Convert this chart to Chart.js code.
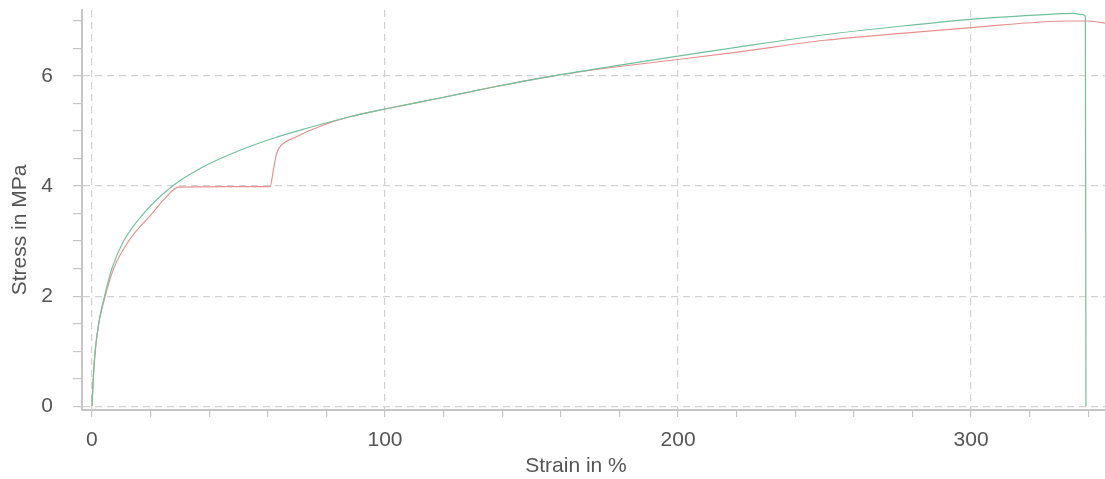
<!DOCTYPE html>
<html>
<head>
<meta charset="utf-8">
<script src="https://cdn.jsdelivr.net/npm/chart.js@4"></script>
<style>
  html, body { margin: 0; padding: 0; background: #fff; }
  #wrap { width: 1105px; height: 479px; }
</style>
</head>
<body>
<div id="wrap"><canvas id="chartLine"></canvas></div>
<script>
// sample 1 (green) - strain in %, stress in MPa
var greenStrain = [0, 0.5, 1.1, 2.3, 4.3, 6.8, 10.8, 17.6, 27.5, 38, 50.5, 61.9, 73.3, 88, 100, 118.8, 137, 156, 178, 200, 221, 250, 275, 300, 323.5, 335, 337.5, 339, 339.2];
var greenStress = [0, 0.55, 1.0, 1.5, 2.0, 2.5, 3.0, 3.5, 4.0, 4.35, 4.65, 4.87, 5.05, 5.26, 5.40, 5.60, 5.80, 5.99, 6.18, 6.36, 6.53, 6.75, 6.90, 7.03, 7.11, 7.14, 7.12, 7.09, 0];

// sample 2 (red)
var redStrain = [0, 0.5, 1.1, 2.3, 4.5, 7.4, 12.5, 20.5, 25, 29.5, 45, 60.8, 61.9, 63, 64.7, 68.7, 79, 88, 100, 118.8, 137, 156, 178, 200, 221, 250, 275, 300, 334, 340, 347];
var redStress = [0, 0.55, 1.0, 1.5, 2.0, 2.5, 3.0, 3.5, 3.78, 3.98, 3.99, 3.99, 4.29, 4.59, 4.75, 4.87, 5.11, 5.26, 5.40, 5.60, 5.80, 5.99, 6.16, 6.30, 6.44, 6.65, 6.77, 6.88, 7.0, 7.0, 6.95];

var xMajor = 100, xMinor = 20;
var yMajor = 2, yMinor = 0.5;

function toPoints(xs, ys) {
    return xs.map(function (x, i) { return { x: x, y: ys[i] }; });
}

var gridColor = '#d2d2d2';
var axisColor = '#c6c6c6';
var textColor = '#555555';
var fontFamily = "'Liberation Sans', Arial, sans-serif";

var axisTitles = {
    id: 'axisTitles',
    afterDraw: function (chart) {
        var ctx = chart.ctx;
        ctx.save();
        ctx.fillStyle = textColor;
        ctx.font = '21px ' + fontFamily;
        ctx.textAlign = 'center';
        ctx.textBaseline = 'middle';
        ctx.fillText('Strain in %', 576, 466);
        ctx.translate(20, 230);
        ctx.rotate(-Math.PI / 2);
        ctx.fillText('Stress in MPa', 0, 0);
        ctx.restore();
    }
};

var lineChart = new Chart(document.getElementById('chartLine'), {
    type: 'line',
    data: {
        datasets: [
            {
                label: 'Sample 1',
                data: toPoints(greenStrain, greenStress),
                borderColor: '#72c09c',
                borderWidth: 1.2,
                pointRadius: 0,
                cubicInterpolationMode: 'monotone',
                fill: false
            },
            {
                label: 'Sample 2',
                data: toPoints(redStrain, redStress),
                borderColor: '#e69090',
                borderWidth: 1.2,
                pointRadius: 0,
                cubicInterpolationMode: 'monotone',
                fill: false
            }
        ]
    },
    options: {
        responsive: true,
        maintainAspectRatio: false,
        animation: false,
        layout: { padding: { top: 10, right: 0, left: 0, bottom: 0 } },
        plugins: {
            legend: { display: false },
            tooltip: { enabled: false }
        },
        scales: {
            x: {
                type: 'linear',
                min: -3.4,
                max: 345.7,
                afterFit: function (scale) {
                    scale.height = 69;
                    scale.paddingLeft = 0;
                    scale.paddingRight = 0;
                },
                ticks: {
                    stepSize: xMinor,
                    maxTicksLimit: 100,
                    includeBounds: false,
                    autoSkip: false,
                    maxRotation: 0,
                    padding: 11,
                    color: textColor,
                    font: { family: fontFamily, size: 21 },
                    callback: function (v) { return v % xMajor === 0 ? String(v) : ''; }
                },
                grid: {
                    color: function (c) { return c.tick && c.tick.value % xMajor === 0 ? gridColor : 'rgba(0,0,0,0)'; },
                    lineWidth: 1.2,
                    tickLength: 7,
                    tickColor: axisColor,
                    tickWidth: 1.2
                },
                border: {
                    color: axisColor,
                    width: 2,
                    dash: function (c) { return c.type === 'tick' ? [7, 5] : []; }
                }
            },
            y: {
                type: 'linear',
                min: -0.07,
                max: 7.2,
                afterFit: function (scale) {
                    scale.width = 82;
                    scale.paddingTop = 0;
                    scale.paddingBottom = 0;
                },
                ticks: {
                    stepSize: yMinor,
                    maxTicksLimit: 100,
                    includeBounds: false,
                    autoSkip: false,
                    padding: 20,
                    color: textColor,
                    font: { family: fontFamily, size: 21 },
                    callback: function (v) { return v % yMajor === 0 ? String(v) : ''; }
                },
                grid: {
                    color: function (c) { return c.tick && c.tick.value % yMajor === 0 ? gridColor : 'rgba(0,0,0,0)'; },
                    lineWidth: 1.2,
                    tickLength: 9,
                    tickColor: axisColor,
                    tickWidth: 1.2
                },
                border: {
                    color: axisColor,
                    width: 2,
                    dash: function (c) { return c.type === 'tick' ? [7, 5] : []; }
                }
            }
        }
    },
    plugins: [axisTitles]
});
</script>
</body>
</html>
